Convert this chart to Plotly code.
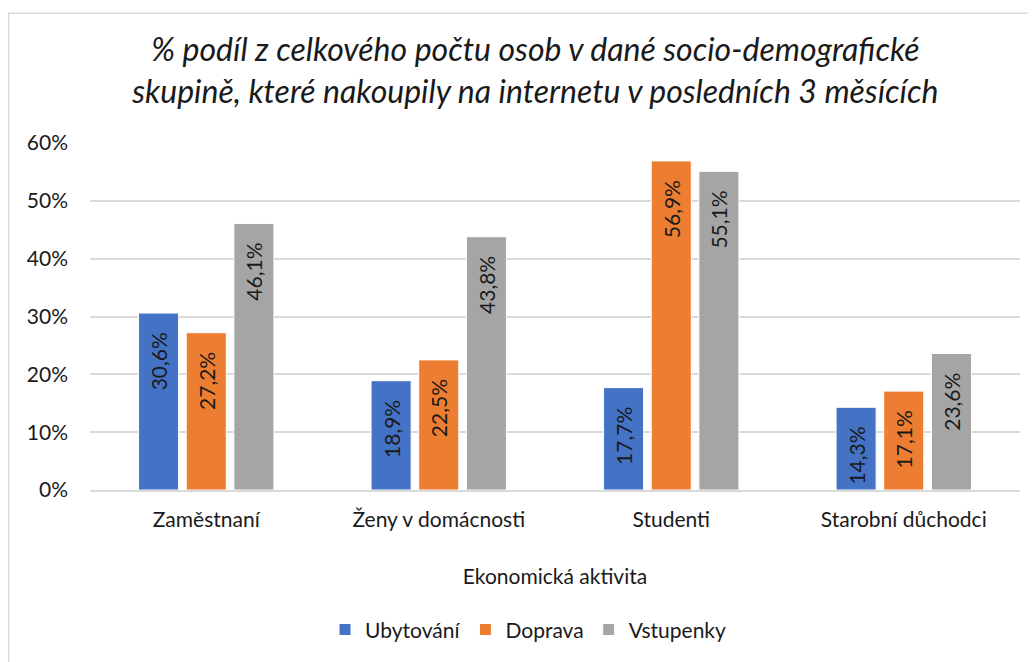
import plotly.graph_objects as go

categories = ["Zaměstnaní", "Ženy v domácnosti", "Studenti", "Starobní důchodci"]
ubytovani = [0.306, 0.189, 0.177, 0.143]
doprava = [0.272, 0.225, 0.569, 0.171]
vstupenky = [0.461, 0.438, 0.551, 0.236]
series_names = ["Ubytování", "Doprava", "Vstupenky"]
colors = ["#4472C4", "#ED7D31", "#A5A5A5"]

FONT = "Lato, 'Open Sans', sans-serif"
TXT = "#1a1a1a"
PAD = "\u00a0\u00a0\u00a0"

def fmt(v):
    return f"{v*100:.1f}%".replace(".", ",") + PAD

fig = go.Figure()
for name, vals, col in zip(series_names, [ubytovani, doprava, vstupenky], colors):
    fig.add_trace(go.Bar(
        x=categories, y=vals, name=name,
        marker=dict(color=col, line=dict(color="white", width=1)),
        text=[fmt(v) for v in vals],
        textposition="inside", insidetextanchor="end", textangle=-90,
        textfont=dict(family=FONT, size=21, color=TXT),
        constraintext="none",
    ))

fig.update_layout(
    width=1028, height=654,
    margin=dict(l=82, r=16, t=135, b=169),
    paper_bgcolor="white", plot_bgcolor="white",
    barmode="group", bargap=0.385, bargroupgap=0.16,
    title=dict(
        text="% podíl z celkového počtu osob v dané socio-demografické<br>skupině, které nakoupily na internetu v posledních 3 měsících",
        font=dict(family=FONT, size=32, color=TXT, style="italic"),
        x=0.513, xanchor="center", y=0.919, yanchor="middle",
    ),
    font=dict(family=FONT, color=TXT),
    showlegend=True,
    legend=dict(orientation="h", x=0.471, xanchor="center", y=-0.403, yanchor="middle",
                font=dict(family=FONT, size=21, color=TXT), itemwidth=30,
                traceorder="normal"),
    shapes=[dict(type="rect", xref="paper", yref="paper",
                 x0=-0.0876, x1=1.1, y0=-0.7, y1=1.374,
                 line=dict(color="#D9D9D9", width=1.5), layer="below")],
)
fig.update_xaxes(
    tickfont=dict(family=FONT, size=21, color=TXT),
    title=dict(text="Ekonomická aktivita", font=dict(family=FONT, size=21, color=TXT), standoff=39),
    showline=True, linecolor="#D9D9D9", linewidth=1.5, ticks="", showgrid=False,
    ticklabelstandoff=10,
)
fig.update_yaxes(
    range=[0, 0.6], dtick=0.1, tickformat=".0%",
    tickfont=dict(family=FONT, size=21, color=TXT),
    showgrid=True, gridcolor="#D9D9D9", gridwidth=1.5, zeroline=False, ticks="",
    ticklabelstandoff=21,
)

fig.write_html("out.html")
